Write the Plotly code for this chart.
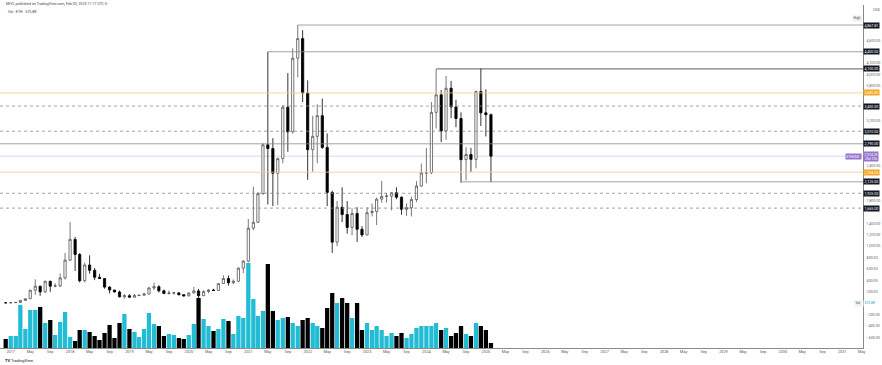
import plotly.graph_objects as go
import pandas as pd

# ---------------- data ----------------
months = pd.date_range("2016-12-01", "2025-02-01", freq="MS")

open_ = [8.7, 8.0, 10.7, 15.8, 50.0, 80.0, 230, 300, 200, 385, 300, 305, 445,
         755, 1118, 855, 395, 670, 577, 455, 433, 283, 232, 198, 113,
         133, 106, 136, 141, 162, 268, 290, 218, 172, 180, 182, 151,
         129, 180, 217, 133, 207, 231, 225, 345, 434, 360, 386, 615,
         737, 1314, 1417, 1918, 2773, 2708, 2275, 2530, 3430, 3000, 4287, 4630,
         3680, 2688, 2920, 3282, 2727, 1940, 1070, 1680, 1553, 1328, 1572, 1295,
         1196, 1585, 1605, 1821, 1870, 1875, 1934, 1856, 1645, 1671, 1815, 2052,
         2282, 2283, 3340, 3646, 3014, 3762, 3434, 3232, 2513, 2603, 2518, 3704,
         3332, 3300]
high = [8.9, 11.4, 16.0, 55.0, 81.0, 230, 420, 305, 395, 395, 350, 520, 880,
        1420, 1160, 880, 710, 840, 620, 515, 435, 300, 235, 223, 160,
        160, 165, 146, 185, 288, 362, 316, 240, 224, 198, 193, 152,
        188, 288, 253, 227, 247, 253, 350, 490, 488, 417, 623, 755,
        1475, 2040, 1945, 2797, 4400, 2890, 2550, 3470, 4027, 4460, 4868, 4778,
        3900, 3280, 3480, 3580, 2970, 1970, 1790, 2030, 1790, 1660, 1680, 1350,
        1680, 1745, 1850, 2140, 1930, 1930, 2030, 1870, 1750, 1865, 2137, 2445,
        2717, 3520, 4093, 3730, 3977, 3890, 3560, 3340, 2730, 2720, 3720, 4107,
        3745, 3320]
low = [5.9, 7.9, 10.2, 15.5, 46.0, 79.0, 147, 130, 185, 200, 280, 283, 415,
       740, 565, 365, 365, 520, 405, 430, 255, 170, 190, 100, 82,
       100, 102, 125, 140, 155, 230, 190, 160, 152, 152, 135, 116,
       125, 178, 86, 125, 176, 215, 223, 343, 309, 335, 374, 530,
       715, 1280, 1410, 1900, 1728, 1700, 1718, 2450, 2650, 2970, 3950, 3520,
       2160, 2300, 2450, 2700, 1700, 880, 1000, 1420, 1220, 1190, 1073, 1160,
       1190, 1520, 1370, 1760, 1760, 1625, 1820, 1550, 1530, 1520, 1770, 2040,
       2100, 2260, 3060, 2820, 2860, 3240, 3080, 2111, 2150, 2300, 2360, 3100,
       2920, 2120]
close = [8.0, 10.7, 15.8, 50.0, 80.0, 230, 300, 200, 385, 300, 305, 445, 755,
         1118, 855, 395, 670, 577, 455, 433, 283, 232, 198, 113, 133,
         106, 136, 141, 162, 268, 290, 218, 172, 180, 182, 151, 129,
         180, 217, 133, 207, 231, 225, 345, 434, 360, 386, 615, 737,
         1314, 1417, 1918, 2773, 2708, 2275, 2530, 3430, 3000, 4287, 4630, 3680,
         2688, 2920, 3282, 2727, 1940, 1070, 1680, 1553, 1328, 1572, 1295, 1196,
         1585, 1605, 1821, 1870, 1875, 1934, 1856, 1645, 1671, 1815, 2052, 2282,
         2283, 3340, 3646, 3014, 3762, 3434, 3232, 2513, 2603, 2518, 3704, 3332,
         3300, 2574]
# monthly volume, millions of ETH
volume = [1.04, 1.38, 1.38, 4.95, 2.19, 4.37, 4.37, 4.72, 2.88, 3.22, 1.50, 2.99, 4.14,
          1.27, 0.81, 2.07, 2.07, 1.84, 1.38, 0.92, 1.73, 2.65, 1.15, 2.88, 3.91,
          2.19, 1.84, 1.27, 2.19, 4.03, 2.76, 2.53, 1.38, 1.61, 1.50, 1.15, 1.04,
          1.50, 2.76, 5.75, 3.34, 2.53, 1.96, 2.19, 3.34, 3.11, 1.61, 3.68, 3.45,
          9.78, 5.64, 3.68, 4.26, 9.66, 4.26, 3.22, 3.45, 3.57, 2.88, 2.53, 3.22,
          3.45, 2.88, 2.53, 2.30, 4.60, 6.33, 5.18, 5.75, 5.18, 3.45, 5.18, 2.07,
          2.88, 2.07, 2.53, 2.07, 1.38, 1.73, 1.38, 1.73, 1.15, 1.61, 2.30, 2.53,
          2.53, 2.53, 2.88, 2.07, 2.30, 1.38, 1.73, 2.53, 1.61, 1.38, 2.88, 2.53,
          2.07, 0.58]

# horizontal levels
level_price = [4867.81, 4400.0, 4100.0, 3680.0, 3450.0, 3010.0, 2790.0, 2294.0, 2125.0, 1925.0, 1665.0]
level_start = ["2021-11-01", "2021-05-01", "2024-03-01", None, None, None, None, None, "2024-08-01", None, None]
level_kind = ["solid", "solid", "dark", "orange", "dot", "dot", "solid", "orange", "solid", "dot", "dot"]

last_price = 2574.29
all_price_ticks = list(range(-600, 5001, 200))

# time-axis ticks (Jan / May / Sep)
tick_dates, tick_text = [], []
for yr in range(2017, 2032):
    for m, lab in [(1, str(yr)), (5, "May"), (9, "Sep")]:
        tick_dates.append(f"{yr}-{m:02d}-01")
        tick_text.append(lab)

# ---------------- figure ----------------
X0, X1 = "2016-10-27", "2031-05-09"
P0, P1 = -782, 5218
VOL_MAX = 39.45

# hide axis ticks that sit under a price tag (as TradingView does)
tags = level_price + [last_price, 0.0, 4975.0]
price_ticks = [t for t in all_price_ticks if all(abs(t - g) > 95 for g in tags)]

CYAN = "#22bcd4"
vol_colors = [CYAN if c >= o else "#000000" for o, c in zip(open_, close)]

fig = go.Figure()
fig.add_trace(go.Bar(x=months, y=volume, marker=dict(color=vol_colors, line=dict(width=0)),
                     yaxis="y", showlegend=False, hoverinfo="skip"))
fig.add_trace(go.Candlestick(
    x=months, open=open_, high=high, low=low, close=close, yaxis="y2",
    increasing=dict(line=dict(color="#555555", width=0.8), fillcolor="#ffffff"),
    decreasing=dict(line=dict(color="#000000", width=0.8), fillcolor="#000000"),
    whiskerwidth=0, showlegend=False))

shapes = []
anns = []
style = {
    "solid": dict(color="#8a8a8a", width=0.8, dash="solid"),
    "dark": dict(color="#333333", width=0.8, dash="solid"),
    "orange": dict(color="#f7c98a", width=0.8, dash="solid"),
    "dot": dict(color="#8a8a8a", width=0.8, dash="dot"),
}
for p, s, k in zip(level_price, level_start, level_kind):
    shapes.append(dict(type="line", xref="x", yref="y2", x0=s or X0, x1=X1, y0=p, y1=p,
                       line=style[k], layer="above"))
    anns.append(dict(xref="paper", yref="y2", x=1.0, y=p, xanchor="left", yanchor="middle",
                     text=f"{p:,.2f}", showarrow=False,
                     font=dict(size=3.6, color="#ffffff", family="Roboto"),
                     bgcolor="#f5a623" if k == "orange" else "#131722", borderpad=0.6))

# current price line
shapes.append(dict(type="line", xref="x", yref="y2", x0=X0, x1=X1, y0=last_price, y1=last_price,
                   line=dict(color="#d9c8f0", width=0.8, dash="solid"), layer="below"))
anns.append(dict(xref="paper", yref="y2", x=1.0, y=last_price, xanchor="left", yanchor="middle",
                 text=f"{last_price:,.2f}<br>25d 12h", showarrow=False,
                 font=dict(size=3.4, color="#ffffff", family="Roboto"), bgcolor="#9575cd", borderpad=0.5))
anns.append(dict(xref="paper", yref="y2", x=0.999, y=last_price, xanchor="right", yanchor="middle",
                 text="ETHUSD", showarrow=False,
                 font=dict(size=3.4, color="#ffffff", family="Roboto"), bgcolor="#9575cd", borderpad=0.5))
# high marker
anns.append(dict(xref="paper", yref="y2", x=0.999, y=4975, xanchor="right", yanchor="middle",
                 text="High", showarrow=False, font=dict(size=3.4, color="#555", family="Roboto"),
                 bgcolor="#eeeeee", borderpad=0.4))
# volume tag
anns.append(dict(xref="paper", yref="y2", x=0.999, y=0, xanchor="right", yanchor="middle",
                 text="Vol", showarrow=False, font=dict(size=3.4, color="#555", family="Roboto"),
                 bgcolor="#e6f6f9", borderpad=0.4))
anns.append(dict(xref="paper", yref="y2", x=1.0, y=0, xanchor="left", yanchor="middle",
                 text="575.8K", showarrow=False, font=dict(size=3.4, color="#22a5bd", family="Roboto"),
                 bgcolor="#ffffff", borderpad=0.4))
# USD label
anns.append(dict(xref="paper", yref="paper", x=1.009, y=0.985, xanchor="left", yanchor="middle",
                 text="USD", showarrow=False, font=dict(size=3.6, color="#555", family="Roboto")))
# header texts
anns.append(dict(xref="paper", yref="paper", x=0.005, y=1.003, xanchor="left", yanchor="middle",
                 text="MrVL published on TradingView.com, Feb 03, 2025 11:17 UTC-5", showarrow=False,
                 font=dict(size=3.6, color="#444", family="Roboto")))
anns.append(dict(xref="paper", yref="paper", x=0.007, y=0.980, xanchor="left", yanchor="middle",
                 text="Vol · ETH   575.8K", showarrow=False,
                 font=dict(size=3.6, color="#444", family="Roboto")))
# TradingView logo text
anns.append(dict(xref="paper", yref="paper", x=0.004, y=-0.036, xanchor="left", yanchor="middle",
                 text="<b>TV</b> TradingView", showarrow=False,
                 font=dict(size=4, color="#131722", family="Roboto")))

fig.update_layout(
    width=882, height=365,
    margin=dict(l=0, r=19, t=5, b=17),
    paper_bgcolor="#ffffff", plot_bgcolor="#ffffff",
    bargap=0.06,
    showlegend=False,
    xaxis=dict(type="date", range=[X0, X1], rangeslider=dict(visible=False),
               tickvals=tick_dates, ticktext=tick_text, tickangle=0,
               tickfont=dict(size=3.8, color="#555", family="Roboto"),
               showgrid=False, zeroline=False, showline=True, linecolor="#8a8a8a", linewidth=0.8,
               ticks="", ticklen=0),
    yaxis=dict(range=[0, VOL_MAX], visible=False, showgrid=False, fixedrange=True),
    yaxis2=dict(range=[P0, P1], overlaying="y", side="right", showgrid=False, zeroline=False,
                tickvals=price_ticks, tickformat=",.2f",
                tickfont=dict(size=3.6, color="#666", family="Roboto"),
                showline=True, linecolor="#8a8a8a", linewidth=0.8, ticks="", ticklabelstandoff=2),
    shapes=shapes,
    annotations=anns,
)

fig.write_html("out.html", config={"displayModeBar": False},
               post_script="document.body.style.margin='0';document.body.style.overflow='hidden';")
